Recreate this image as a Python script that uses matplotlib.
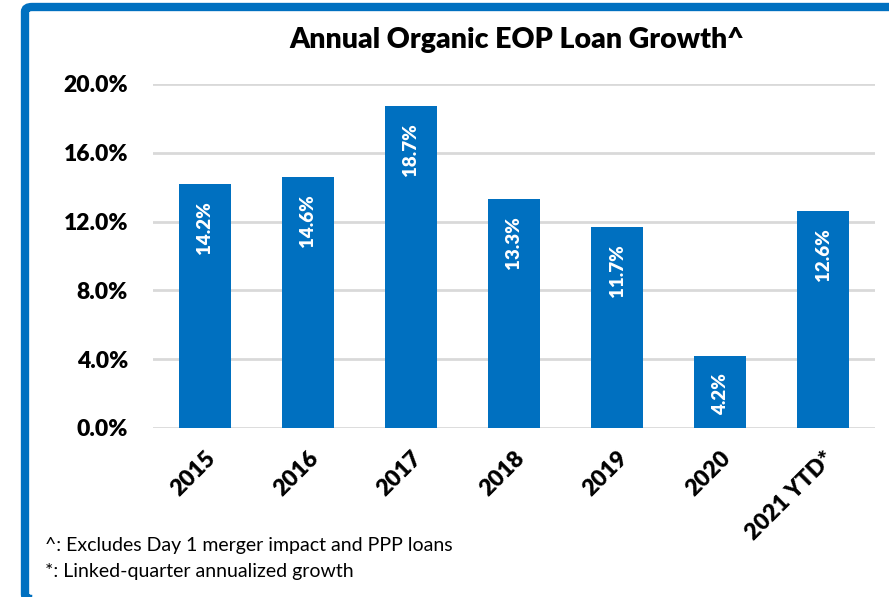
import matplotlib
matplotlib.use("Agg")
import matplotlib.pyplot as plt
from matplotlib.patches import FancyBboxPatch

years = ["2015", "2016", "2017", "2018", "2019", "2020", "2021 YTD*"]
growth = [14.2, 14.6, 18.7, 13.3, 11.7, 4.2, 12.6]
yticks = [0, 4, 8, 12, 16, 20]
notes = ["^: Excludes Day 1 merger impact and PPP loans",
         "*: Linked-quarter annualized growth"]

plt.rcParams["font.family"] = ["Lato", "DejaVu Sans"]
BOLD = "heavy"

W, H = 889, 597
fig = plt.figure(figsize=(W / 100, H / 100), dpi=100)

# blue frame around the slide panel
frame = FancyBboxPatch((25 / W, -2 / H), 900 / W, (H - 5) / H,
                       boxstyle="round,pad=0,rounding_size=0.008",
                       transform=fig.transFigure, fill=False,
                       edgecolor="#0070C0", linewidth=6, clip_on=False)
fig.patches.append(frame)

ax = fig.add_axes([153 / W, 1 - 428 / H, (875 - 153) / W, (428 - 84) / H])
x = range(len(years))
bars = ax.bar(x, growth, width=0.505, color="#0070C0", zorder=3)

for b, v in zip(bars, growth):
    ax.text(b.get_x() + b.get_width() / 2, v - 1.0, f"{v:.1f}%",
            rotation=90, ha="center", va="top", color="white",
            fontsize=13.5, fontweight=BOLD, zorder=4)

ax.set_xlim(-0.5, len(years) - 0.5)
ax.set_ylim(0, 20)
ax.set_yticks(yticks)
ax.set_yticklabels([f"{t:.1f}%" for t in yticks], fontsize=16.5, fontweight=BOLD)
ax.yaxis.grid(True, color="#d9d9d9", linewidth=2, zorder=0)
ax.set_xticks(list(x))
ax.set_xticklabels(years, rotation=45, ha="right", rotation_mode="anchor",
                   fontsize=16.5, fontweight=BOLD)
ax.tick_params(axis="both", length=0)
ax.tick_params(axis="y", pad=18)
ax.tick_params(axis="x", pad=14)
for s in ax.spines.values():
    s.set_visible(False)

fig.text(517 / W, 1 - 40 / H, "Annual Organic EOP Loan Growth^",
         ha="center", va="center", fontsize=20.5, fontweight=BOLD)
fig.text(45 / W, 1 - 546 / H, notes[0], ha="left", va="center", fontsize=14)
fig.text(45 / W, 1 - 571 / H, notes[1], ha="left", va="center", fontsize=14)

fig.savefig("out.png", dpi=100)
